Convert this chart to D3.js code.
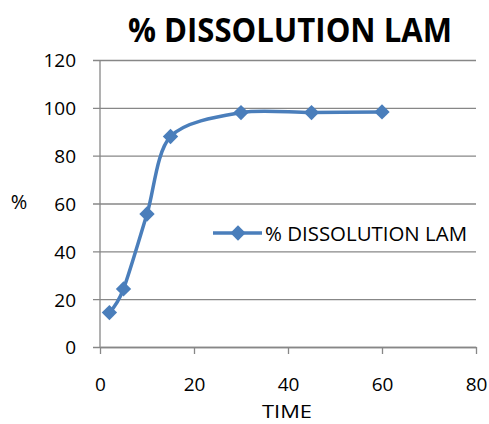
<!DOCTYPE html>
<html>
<head>
<meta charset="utf-8">
<script src="https://cdn.jsdelivr.net/npm/d3@7"></script>
<style>
  html, body { margin: 0; padding: 0; background: #fff; }
  svg { display: block; }
  text { font-family: "Open Sans", "Liberation Sans", sans-serif; fill: #000; }
</style>
</head>
<body>
<svg id="chart" width="489" height="424"></svg>
<script>
// Dissolution profile: time (min) vs % dissolved
const seriesName = "% DISSOLUTION LAM";
const times = [2, 5, 10, 15, 30, 45, 60];
const dissolved = [14.4, 24.3, 55.6, 88.0, 98.0, 98.0, 98.3];
const xTicks = [0, 20, 40, 60, 80];
const yTicks = [0, 20, 40, 60, 80, 100, 120];

const svg = d3.select("#chart");
const plot = { left: 100, right: 476, top: 60, bottom: 347 };

const x = d3.scaleLinear().domain([0, 80]).range([plot.left, plot.right]);
const y = d3.scaleLinear().domain([0, 120]).range([plot.bottom, plot.top]);

const gridColor = "#878787";
const lineColor = "#4A7EBB";
const fontStack = '"Open Sans", "Liberation Sans", sans-serif';

// horizontal gridlines with left tick marks
const yAxis = d3.axisLeft(y).tickValues(yTicks).tickSize(plot.right - plot.left + 7).tickPadding(17);
const gy = svg.append("g").attr("transform", `translate(${plot.right},0)`).call(yAxis);
gy.select(".domain").remove();
gy.selectAll(".tick line").attr("stroke", gridColor).attr("stroke-width", 1.3);
gy.selectAll(".tick text")
  .style("font-family", fontStack).style("font-size", "19px")
  .attr("dy", "0.36em").attr("fill", "#000");

// bottom axis
const xAxis = d3.axisBottom(x).tickValues(xTicks).tickSize(7).tickPadding(25).tickSizeOuter(0);
const gx = svg.append("g").attr("transform", `translate(0,${plot.bottom})`).call(xAxis);
gx.select(".domain").attr("stroke", gridColor).attr("stroke-width", 1.3);
gx.selectAll(".tick line").attr("stroke", gridColor).attr("stroke-width", 1.3);
gx.selectAll(".tick text")
  .style("font-family", fontStack).style("font-size", "19px")
  .attr("y", 391 - plot.bottom).attr("dy", 0).attr("fill", "#000");

// vertical axis line
svg.append("line")
  .attr("x1", plot.left).attr("x2", plot.left)
  .attr("y1", plot.top).attr("y2", plot.bottom)
  .attr("stroke", gridColor).attr("stroke-width", 1.3);

// smoothed series line
const pts = times.map((t, i) => [x(t), y(dissolved[i])]);
const line = d3.line().curve(d3.curveCardinal.tension(0.1));
svg.append("path")
  .attr("d", line(pts))
  .attr("fill", "none")
  .attr("stroke", lineColor)
  .attr("stroke-width", 3.5)
  .attr("stroke-linejoin", "round");

// diamond markers
const diamond = d3.symbol().type(d3.symbolDiamond2).size(150);
svg.selectAll(".marker").data(pts).join("path")
  .attr("class", "marker")
  .attr("transform", d => `translate(${d[0]},${d[1]})`)
  .attr("d", diamond)
  .attr("fill", lineColor);

// title
svg.append("text")
  .attr("x", 290).attr("y", 42)
  .attr("text-anchor", "middle")
  .style("font-size", "34px").attr("font-weight", "bold")
  .attr("textLength", 324).attr("lengthAdjust", "spacingAndGlyphs")
  .text(seriesName);

// axis titles
svg.append("text").attr("x", 19).attr("y", 209).attr("text-anchor", "middle")
  .style("font-size", "20px").text("%");
svg.append("text").attr("x", 287).attr("y", 418).attr("text-anchor", "middle")
  .style("font-size", "19px")
  .attr("textLength", 50).attr("lengthAdjust", "spacingAndGlyphs")
  .text("TIME");

// legend
const lg = svg.append("g").attr("transform", "translate(213,233)");
lg.append("line").attr("x1", 0).attr("x2", 49).attr("y1", 0).attr("y2", 0)
  .attr("stroke", lineColor).attr("stroke-width", 3.5);
lg.append("path").attr("transform", "translate(25,0)").attr("d", diamond).attr("fill", lineColor);
lg.append("text").attr("x", 52).attr("y", 7.5)
  .style("font-size", "20px")
  .attr("textLength", 202).attr("lengthAdjust", "spacingAndGlyphs")
  .text(seriesName);
</script>
</body>
</html>
